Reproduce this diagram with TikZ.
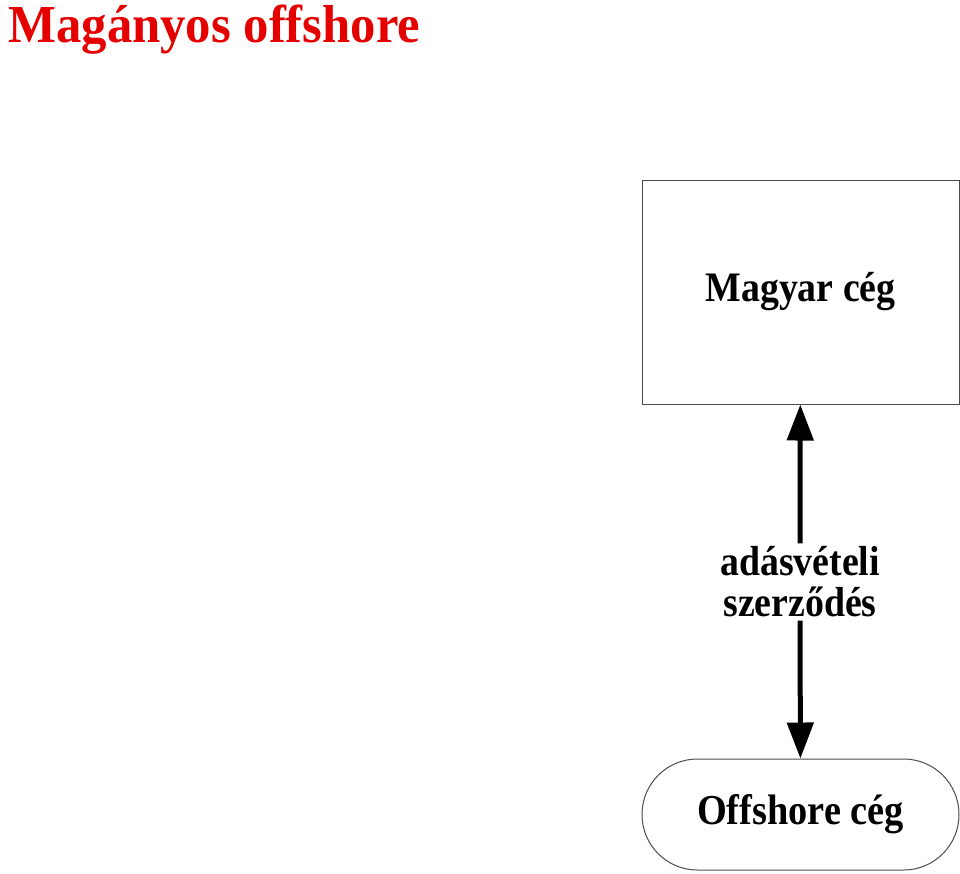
\documentclass[tikz,border=0pt]{standalone}
\usepackage{fontspec}
\setmainfont{Liberation Serif}
\newfontfamily\boxfont[FakeStretch=0.9]{Liberation Serif}
\newfontfamily\titlefont[FakeStretch=0.95]{Liberation Serif}
\usepackage{xcolor}
\usetikzlibrary{arrows.meta, positioning}
\tikzstyle{company} = [rectangle, minimum width=158.5pt, minimum height=112pt, text centered, draw=black!70, line width=0.5pt, font=\boxfont\bfseries\fontsize{21}{22}\selectfont]
\tikzstyle{offshore} = [rectangle, rounded corners=27.7pt, minimum width=158.5pt, minimum height=55.5pt, text centered, draw=black!70, line width=0.5pt, font=\boxfont\bfseries\fontsize{21.3}{22}\selectfont]
\tikzstyle{contract} = [align=center, inner sep=1.5pt, font=\boxfont\bfseries\fontsize{21}{20.5}\selectfont]
\tikzstyle{arrow} = [line width=2.5pt, -{Triangle[length=18pt, width=13pt]}]

\begin{document}
\begin{tikzpicture}[x=0.5pt, y=-0.5pt]
\useasboundingbox (0,0) rectangle (960,874);

\node (title) [anchor=base west, inner sep=0pt, text=red!90!black, font=\titlefont\bfseries\fontsize{26.7}{28}\selectfont] at (8,42) {Magányos offshore};
\node (magyar) [company] at (800.5,292) {Magyar cég};
\node (offsh) [offshore] at (800.5,814.5) {Offshore cég};
\node (szerz) [contract] at (800,582) {adásvételi\\szerződés};

% Arrows
\draw [arrow] (szerz) -- (magyar);
\draw [arrow] (szerz) -- (offsh);

\end{tikzpicture}
\end{document}
